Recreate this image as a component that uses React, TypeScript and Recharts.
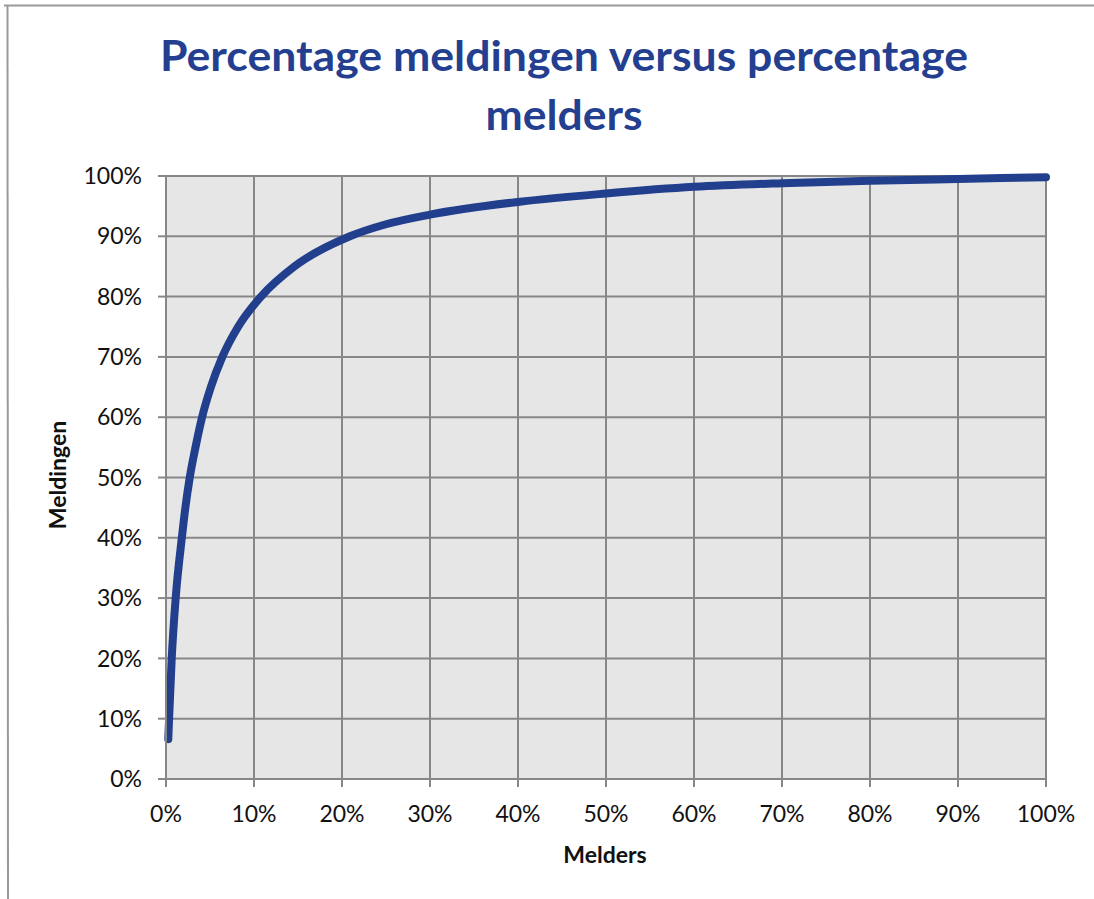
import React from 'react';
import { LineChart, Line, XAxis, YAxis, CartesianGrid } from 'recharts';

// percentage melders (x) and percentage meldingen (y)
const melders = [0.26, 0.35, 0.65, 1.1, 1.8, 2.2, 2.7, 3.35, 4.1, 5.1, 6.4, 8.2, 10.8, 14.6, 20.9, 25, 30, 40, 50, 60, 70, 80, 90, 100];
const meldingen = [6.6, 10, 20, 30, 40, 45, 50, 55, 60, 65, 70, 75, 80, 85, 90, 92.0, 93.6, 95.7, 97.1, 98.2, 98.8, 99.2, 99.5, 99.8];
const xTicks = [0, 10, 20, 30, 40, 50, 60, 70, 80, 90, 100];
const yTicks = [0, 10, 20, 30, 40, 50, 60, 70, 80, 90, 100];

const data = melders.map((x, i) => ({ x, y: meldingen[i] }));

const GRID = '#878787';
const BLUE = '#223f8e';
const FONT = 'Lato, "Open Sans", sans-serif';

const pct = (v: number) => `${v}%`;

export default function App() {
  return (
    <div style={{ position: 'absolute', left: 0, top: 0, width: 1094, height: 899, background: '#fff' }}>
      <LineChart width={1094} height={899} data={data} margin={{ top: 176, right: 48, bottom: 0, left: 0 }}>
        <CartesianGrid stroke={GRID} strokeWidth={2} fill="#e6e6e6" />
        <XAxis
          dataKey="x"
          type="number"
          domain={[0, 100]}
          ticks={xTicks}
          tickFormatter={pct}
          height={120}
          tickSize={8}
          tickMargin={19}
          axisLine={{ stroke: GRID, strokeWidth: 2 }}
          tickLine={{ stroke: GRID, strokeWidth: 2 }}
          tick={{ fill: '#111', fontSize: 23, fontFamily: FONT }}
        />
        <YAxis
          type="number"
          domain={[0, 100]}
          ticks={yTicks}
          tickFormatter={pct}
          width={166}
          tickSize={8}
          tickMargin={16}
          axisLine={{ stroke: GRID, strokeWidth: 2 }}
          tickLine={{ stroke: GRID, strokeWidth: 2 }}
          tick={{ fill: '#111', fontSize: 23, fontFamily: FONT }}
        />
        <Line
          dataKey="y"
          type="monotone"
          stroke={BLUE}
          strokeWidth={8}
          dot={false}
          strokeLinecap="round"
          isAnimationActive={false}
        />
      </LineChart>
      <svg width={1094} height={899} style={{ position: 'absolute', left: 0, top: 0, pointerEvents: 'none' }}>
        <line x1={4} y1={5.5} x2={1094} y2={5.5} stroke="#9a9a9a" strokeWidth={2} />
        <line x1={7.5} y1={5} x2={8} y2={899} stroke="#9a9a9a" strokeWidth={2} />
        <text x={564} y={71} textAnchor="middle" fill="#243f8f" fontFamily={FONT} fontWeight={700} fontSize={42} textLength={808} lengthAdjust="spacingAndGlyphs">
          Percentage meldingen versus percentage
        </text>
        <text x={564} y={130} textAnchor="middle" fill="#243f8f" fontFamily={FONT} fontWeight={700} fontSize={42} textLength={157} lengthAdjust="spacingAndGlyphs">
          melders
        </text>
        <text x={605} y={863} textAnchor="middle" fill="#111" fontFamily={FONT} fontWeight={700} fontSize={23}>
          Melders
        </text>
        <text x={66} y={475} textAnchor="middle" fill="#111" fontFamily={FONT} fontWeight={700} fontSize={23} transform="rotate(-90 66 475)">
          Meldingen
        </text>
      </svg>
    </div>
  );
}
